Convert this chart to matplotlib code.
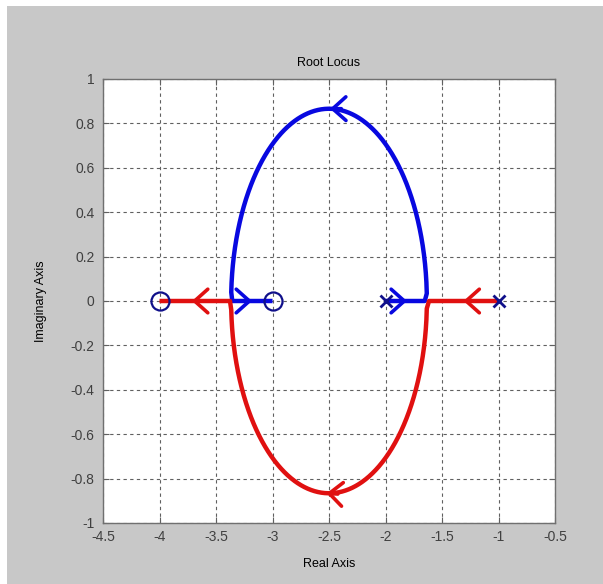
import numpy as np
import matplotlib
matplotlib.use('Agg')
import matplotlib.pyplot as plt
from matplotlib.patches import Rectangle

# open-loop system: zeros and poles
zeros = [-3.0, -4.0]
poles = [-1.0, -2.0]
x_ticks = [-4.5, -4, -3.5, -3, -2.5, -2, -1.5, -1, -0.5]
y_ticks = [-1, -0.8, -0.6, -0.4, -0.2, 0, 0.2, 0.4, 0.6, 0.8, 1]
# where the direction arrows sit on each branch (real part of arrow tip)
blue_arrows = [-1.81, -2.49, -3.18]
red_arrows = [-1.31, -2.52, -3.71]

plt.rcParams['font.family'] = ['Liberation Sans', 'DejaVu Sans']

num = np.poly(zeros)
den = np.poly(poles)

# gain sweep, denser near the break points
gains = np.unique(np.concatenate([
    np.linspace(0, 0.2, 400),
    np.geomspace(0.2, 20, 600),
    np.geomspace(20, 1e5, 400),
]))

blue, red = [], []
for k in gains:
    r = np.roots(den + k * num)
    if abs(r[0].imag) > 1e-9:
        blue.append(r[np.argmax(r.imag)])
        red.append(r[np.argmin(r.imag)])
    else:
        lo, hi = sorted(r.real)
        if k < 1:
            blue.append(lo)
            red.append(hi)
        else:
            blue.append(hi)
            red.append(lo)
blue = np.array(blue, dtype=complex)
red = np.array(red, dtype=complex)

fig = plt.figure(figsize=(6.03, 5.84), dpi=100, facecolor='white')
fig.patches.append(Rectangle((7 / 603, 0), 1, 1 - 6 / 584, transform=fig.transFigure,
                             facecolor='#c8c8c8', edgecolor='none', zorder=-10))
ax = fig.add_axes([103 / 603, 1 - 523 / 584, 452 / 603, 444 / 584])
ax.set_facecolor('white')

ax.plot(blue.real, blue.imag, color='#0808e0', lw=3.2, solid_capstyle='butt', zorder=3)
ax.plot(red.real, red.imag, color='#e01010', lw=3.2, solid_capstyle='butt', zorder=4)


def add_arrows(branch, xs, color, z):
    for xa in xs:
        # arc arrows near the top/bottom, the others on the real axis
        if abs(xa - (-2.5)) < 0.2:
            cand = np.where(np.abs(branch.imag) > 0.5)[0]
        else:
            cand = np.where(np.abs(branch.imag) < 1e-9)[0]
        i = cand[np.argmin(np.abs(branch.real[cand] - xa))]
        j = min(i + 1, len(branch) - 1)
        while abs(branch[j] - branch[i]) < 0.02 and j < len(branch) - 1:
            j += 1
        d = branch[j] - branch[i]
        d = d / abs(d)
        tip = branch[i]
        tail = tip - 0.1 * d
        ax.annotate('', xy=(tip.real, tip.imag), xytext=(tail.real, tail.imag),
                    arrowprops=dict(arrowstyle='->,head_length=0.95,head_width=0.85',
                                    color=color, lw=2.6, shrinkA=0, shrinkB=0),
                    zorder=z)


add_arrows(blue, blue_arrows, '#0808e0', 5)
add_arrows(red, red_arrows, '#e01010', 5)

ax.plot(zeros, [0] * len(zeros), 'o', ms=13, mfc='none', mec='#10108a', mew=1.6, zorder=6)
ax.plot(poles, [0] * len(poles), 'x', ms=9, mec='#10108a', mew=2, zorder=6)

ax.set_xlim(-4.5, -0.5)
ax.set_ylim(-1, 1)
ax.set_xticks(x_ticks)
ax.set_yticks(y_ticks)
ax.set_xticklabels([f'{v:g}' for v in x_ticks])
ax.set_yticklabels([f'{v:g}' for v in y_ticks])
ax.grid(True, linestyle=(0, (3, 3)), color='#606060', lw=0.8)
ax.set_axisbelow(True)
ax.tick_params(direction='in', top=True, right=True, length=4, color='#606060',
               labelsize=10, labelcolor='#404040')
ax.tick_params(axis='x', pad=5)
ax.tick_params(axis='y', pad=6)
for lbl in ax.get_yticklabels():
    lbl.set_verticalalignment('center_baseline')
for s in ax.spines.values():
    s.set_color('#707070')
    s.set_linewidth(1)

ax.set_title('Root Locus', fontsize=9, pad=9)
ax.set_xlabel('Real Axis', fontsize=9, labelpad=10)
ax.set_ylabel('Imaginary Axis', fontsize=9, labelpad=17)

fig.savefig('out.png', dpi=100, facecolor=fig.get_facecolor())
